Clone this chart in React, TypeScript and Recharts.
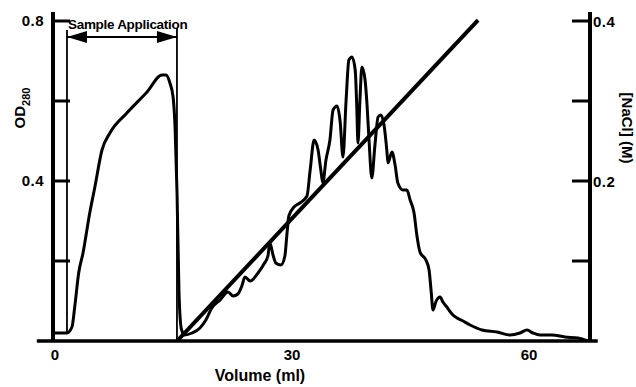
import React from "react";
import { ComposedChart, Line, XAxis, YAxis, ReferenceLine } from "recharts";

// OD280 elution profile (volume in ml, OD280)
const odVolume = [
  -0.1, 1.5, 2.15, 2.5, 3.0, 3.55, 4.4, 5.05, 5.95, 6.95, 9.1, 11.65, 13.55, 14.05, 14.55, 14.95,
  15.2, 15.45, 15.7, 16.0, 16.4, 17.35, 18.35, 19.1, 19.85, 20.9, 21.9, 22.55, 23.15, 23.65, 24.05,
  24.7, 25.7, 26.45, 26.95, 27.2, 27.6, 27.95, 28.6, 29.1, 29.35, 29.6, 30.25, 31.0, 31.9, 32.3,
  32.8, 33.3, 33.65, 33.9, 34.3, 34.8, 35.2, 35.7, 36.1, 36.45, 36.85, 37.2, 37.6, 38.0, 38.2,
  38.35, 38.6, 38.85, 39.25, 39.5, 39.75, 40.1, 40.5, 40.9, 41.25, 41.65, 42.0, 42.15, 42.65,
  43.05, 43.4, 44.05, 44.55, 44.95, 45.45, 45.8, 46.2, 46.95, 47.35, 47.6, 47.85, 48.2, 48.75,
  49.1, 49.6, 50.25, 50.9, 51.65, 52.55, 54.05, 55.95, 57.6, 58.85, 59.75, 60.5, 61.4, 62.9,
  64.55, 66.2, 67.45,
];
const odValue = [
  0.02, 0.02, 0.035, 0.085, 0.17, 0.22, 0.32, 0.385, 0.4775, 0.52, 0.57, 0.6225, 0.665, 0.665,
  0.645, 0.61, 0.535, 0.37, 0.12, 0.03, 0.015, 0.02, 0.0325, 0.0525, 0.0825, 0.1025, 0.1225,
  0.1125, 0.1175, 0.1375, 0.16, 0.15, 0.17, 0.1925, 0.2125, 0.245, 0.215, 0.195, 0.19, 0.2125,
  0.265, 0.3125, 0.335, 0.345, 0.3625, 0.4275, 0.5025, 0.4775, 0.4275, 0.395, 0.4525, 0.5025,
  0.5775, 0.5875, 0.5475, 0.46, 0.6025, 0.7025, 0.71, 0.6775, 0.585, 0.495, 0.6025, 0.685,
  0.6525, 0.59, 0.5025, 0.4075, 0.49, 0.56, 0.565, 0.54, 0.4775, 0.445, 0.4725, 0.44, 0.395,
  0.3775, 0.3775, 0.3525, 0.32, 0.265, 0.2225, 0.2025, 0.1775, 0.1275, 0.0775, 0.0975, 0.11,
  0.0975, 0.085, 0.0675, 0.0575, 0.05, 0.04, 0.0275, 0.0225, 0.015, 0.02, 0.0275, 0.02, 0.015,
  0.015, 0.01, 0.0075, 0.0,
];

// NaCl gradient (volume in ml, molar)
const gradientVolume = [15.45, 53.55];
const gradientNaCl = [0.0, 0.401];

// Sample application marks (volume in ml)
const sampleStart = 1.52;
const sampleEnd = 15.44;
const arrowLevel = 0.76;

const xTicks = [0, 30, 60];
const leftTicks = [0, 0.2, 0.4, 0.6, 0.8];
const leftLabeled = [0.4, 0.8];
const rightTicks = [0, 0.1, 0.2, 0.3, 0.4];
const rightLabeled = [0.2, 0.4];

const odData = odVolume.map((v, i) => ({ v, od: odValue[i] }));
const gradientData = gradientVolume.map((v, i) => ({ v, nacl: gradientNaCl[i] }));
const arrowData = [
  { v: sampleStart, y: arrowLevel },
  { v: sampleEnd, y: arrowLevel },
];

const FONT = "'Liberation Sans', Arial, Helvetica, sans-serif";

const LeftTick = (props: any) => {
  const { x, y, payload } = props;
  const val = payload.value;
  const show = leftLabeled.some((t) => Math.abs(t - val) < 1e-6);
  return (
    <g>
      {val !== 0 && <line x1={x} x2={x + 17} y1={y} y2={y} stroke="#000" strokeWidth={3} />}
      {show && (
        <text x={x - 9} y={y + 5} textAnchor="end" fontFamily={FONT} fontWeight="bold" fontSize={15} fill="#000" letterSpacing={0.5}>
          {val.toFixed(1)}
        </text>
      )}
    </g>
  );
};

const RightTick = (props: any) => {
  const { x, y, payload } = props;
  const val = payload.value;
  const show = rightLabeled.some((t) => Math.abs(t - val) < 1e-6);
  return (
    <g>
      {val !== 0 && <line x1={x - 18} x2={x} y1={y} y2={y} stroke="#000" strokeWidth={3} />}
      {show && (
        <text x={x + 3} y={y + 6} textAnchor="start" fontFamily={FONT} fontWeight="bold" fontSize={15} fill="#000" letterSpacing={0.5}>
          {val.toFixed(1)}
        </text>
      )}
    </g>
  );
};

const BottomTick = (props: any) => {
  const { x, y, payload } = props;
  return (
    <text x={x} y={y + 19} textAnchor="middle" fontFamily={FONT} fontWeight="bold" fontSize={15} fill="#000">
      {payload.value}
    </text>
  );
};

const ArrowDot = (props: any) => {
  const { cx, cy, index } = props;
  if (index === 0) {
    return (
      <g key="a0">
        <polygon points={`${cx},${cy} ${cx + 20},${cy - 6} ${cx + 20},${cy + 6}`} fill="#000" />
        <text x={cx + 1} y={cy - 8} fontFamily={FONT} fontWeight="bold" fontSize={13.5} fill="#000" letterSpacing={-0.3}>
          Sample Application
        </text>
      </g>
    );
  }
  return (
    <g key="a1">
      <polygon points={`${cx},${cy} ${cx - 20},${cy - 6} ${cx - 20},${cy + 6}`} fill="#000" />
    </g>
  );
};

const OdLabel = () => (
  <text x={25} y={108} transform="rotate(-90 25 108)" textAnchor="middle" fontFamily={FONT} fontWeight="bold" fontSize={15} fill="#000">
    OD
    <tspan fontSize={11} dy={5}>280</tspan>
  </text>
);

const NaclLabel = () => (
  <text x={622} y={128} transform="rotate(90 622 128)" textAnchor="middle" fontFamily={FONT} fontWeight="bold" fontSize={15} fill="#000">
    [NaCl] (M)
  </text>
);

const VolLabel = () => (
  <text x={260} y={381} textAnchor="middle" fontFamily={FONT} fontWeight="bold" fontSize={16} fill="#000">
    Volume (ml)
  </text>
);

export default function App() {
  return (
    <div style={{ position: "absolute", left: 0, top: 0, width: 636, height: 387, background: "#fff" }}>
      <ComposedChart width={636} height={387} margin={{ top: 12, right: 0, bottom: 0, left: 0 }}>
        <XAxis
          xAxisId="x"
          type="number"
          dataKey="v"
          domain={[-0.25, 67.72]}
          allowDataOverflow
          ticks={xTicks}
          tick={<BottomTick />}
          tickLine={false}
          tickSize={0}
          tickMargin={0}
          axisLine={false}
          height={46}
          label={<VolLabel />}
        />
        <YAxis
          yAxisId="left"
          orientation="left"
          type="number"
          domain={[0, 0.8225]}
          allowDataOverflow
          ticks={leftTicks}
          tick={<LeftTick />}
          tickLine={false}
          tickSize={0}
          tickMargin={0}
          width={53}
          axisLine={{ stroke: "#000", strokeWidth: 4 }}
          label={<OdLabel />}
        />
        <YAxis
          yAxisId="right"
          orientation="right"
          type="number"
          domain={[0, 0.41125]}
          allowDataOverflow
          ticks={rightTicks}
          tick={<RightTick />}
          tickLine={false}
          tickSize={0}
          tickMargin={0}
          width={46}
          axisLine={{ stroke: "#000", strokeWidth: 4 }}
          label={<NaclLabel />}
        />
        <ReferenceLine
          xAxisId="x"
          yAxisId="left"
          segment={[{ x: -2.3, y: 0 }, { x: 68.7, y: 0 }]}
          ifOverflow="visible"
          stroke="#000"
          strokeWidth={3.5}
        />
        <ReferenceLine
          xAxisId="x"
          yAxisId="left"
          segment={[{ x: sampleStart, y: 0.02 }, { x: sampleStart, y: 0.7775 }]}
          ifOverflow="visible"
          stroke="#000"
          strokeWidth={1.8}
        />
        <ReferenceLine
          xAxisId="x"
          yAxisId="left"
          segment={[{ x: sampleEnd, y: 0 }, { x: sampleEnd, y: 0.7825 }]}
          ifOverflow="visible"
          stroke="#000"
          strokeWidth={1.8}
        />
        <Line
          xAxisId="x"
          yAxisId="left"
          data={arrowData}
          dataKey="y"
          type="linear"
          stroke="#000"
          strokeWidth={2}
          dot={<ArrowDot />}
          activeDot={false}
          isAnimationActive={false}
        />
        <Line
          xAxisId="x"
          yAxisId="right"
          data={gradientData}
          dataKey="nacl"
          type="linear"
          stroke="#000"
          strokeWidth={4}
          dot={false}
          activeDot={false}
          isAnimationActive={false}
        />
        <Line
          xAxisId="x"
          yAxisId="left"
          data={odData}
          dataKey="od"
          type="monotone"
          stroke="#000"
          strokeWidth={3}
          strokeLinejoin="round"
          dot={false}
          activeDot={false}
          isAnimationActive={false}
        />
      </ComposedChart>
    </div>
  );
}
